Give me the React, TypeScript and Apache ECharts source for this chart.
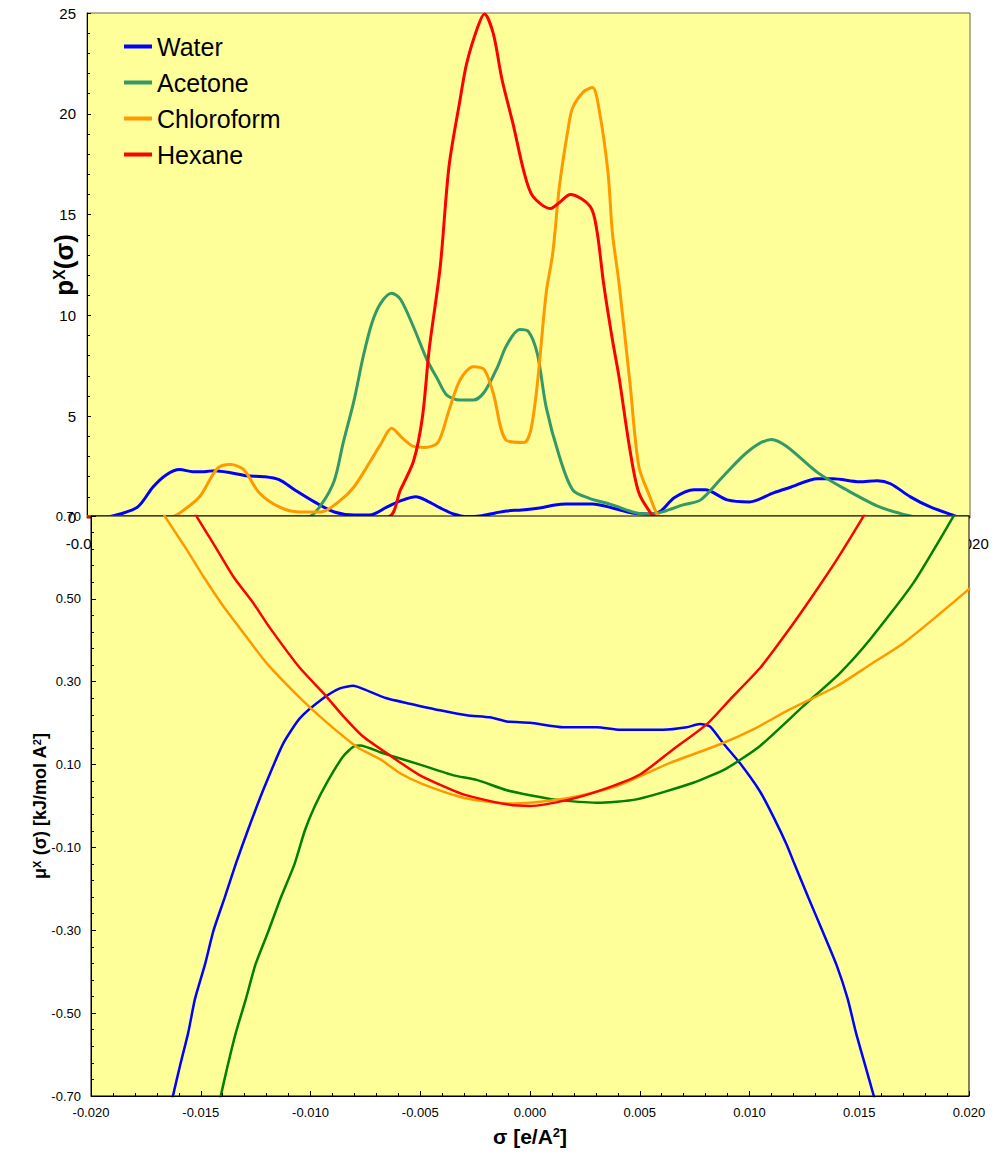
import React, { useEffect, useRef } from "react";
import * as echarts from "echarts";

// sigma [e/A^2], p(sigma)
const waterProfile = [[-0.02,0],[-0.0192,0],[-0.0185,0.15],[-0.0177,0.5],[-0.0170,1.5],[-0.0164,2.1],[-0.0158,2.35],[-0.0152,2.25],[-0.0147,2.25],[-0.0142,2.3],[-0.0135,2.2],[-0.0128,2.05],[-0.0120,2.0],[-0.0113,1.85],[-0.0106,1.35],[-0.0097,0.75],[-0.0088,0.25],[-0.0079,0.1],[-0.0072,0.1],[-0.0064,0.5],[-0.0058,0.8],[-0.0051,1.0],[-0.0046,0.8],[-0.0040,0.45],[-0.0034,0.15],[-0.0028,0.02],[-0.0022,0.05],[-0.0015,0.2],[-0.0010,0.3],[-0.0003,0.35],[0.0005,0.45],[0.0012,0.6],[0.0017,0.65],[0.0029,0.65],[0.0038,0.45],[0.0047,0.2],[0.0056,0.15],[0.0060,0.3],[0.0066,0.95],[0.0075,1.35],[0.0080,1.35],[0.0090,0.85],[0.0100,0.75],[0.0111,1.2],[0.0118,1.45],[0.0131,1.9],[0.0138,1.9],[0.0150,1.75],[0.0158,1.8],[0.0164,1.65],[0.0173,1.0],[0.0182,0.5],[0.0192,0.1],[0.0195,0],[0.02,0]];
const acetoneProfile = [[-0.02,0],[-0.0100,0],[-0.0094,0.6],[-0.0088,1.8],[-0.0084,3.65],[-0.0079,5.8],[-0.0075,7.9],[-0.0071,9.6],[-0.0067,10.6],[-0.0062,11.1],[-0.0058,10.8],[-0.0052,9.4],[-0.0046,7.8],[-0.0041,6.8],[-0.0037,6.05],[-0.0031,5.8],[-0.0025,5.8],[-0.0020,6.2],[-0.0014,7.45],[-0.0010,8.5],[-0.0004,9.3],[0.0000,9.2],[0.0004,8.1],[0.0008,5.45],[0.0014,3.0],[0.0020,1.35],[0.0027,0.95],[0.0038,0.6],[0.0049,0.2],[0.0056,0.15],[0.0062,0.3],[0.0070,0.6],[0.0078,0.85],[0.0088,2.0],[0.0100,3.3],[0.0110,3.85],[0.0117,3.5],[0.0131,2.2],[0.0144,1.35],[0.0159,0.5],[0.0171,0.1],[0.0176,0],[0.02,0]];
const chloroformProfile = [[-0.02,0],[-0.0162,0],[-0.0158,0.2],[-0.0149,1.0],[-0.0141,2.4],[-0.0135,2.6],[-0.0129,2.35],[-0.0122,1.2],[-0.0113,0.5],[-0.0104,0.25],[-0.0094,0.25],[-0.0085,0.85],[-0.0079,1.5],[-0.0072,2.7],[-0.0067,3.6],[-0.0062,4.4],[-0.0057,3.9],[-0.0052,3.5],[-0.0047,3.45],[-0.0041,3.7],[-0.0036,5.3],[-0.0031,6.8],[-0.0025,7.45],[-0.0020,7.3],[-0.0016,6.15],[-0.0010,3.8],[-0.0002,3.7],[0.0001,4.3],[0.0004,6.6],[0.0008,11.1],[0.0011,13.1],[0.0014,16.4],[0.0018,19.3],[0.0020,20.3],[0.0025,21.1],[0.0029,21.3],[0.0032,20.2],[0.0036,17.1],[0.0038,14.1],[0.0041,11.6],[0.0046,6.6],[0.0050,2.5],[0.0055,1.0],[0.0058,0.2],[0.0060,0],[0.02,0]];
const hexaneProfile = [[-0.02,0],[-0.0064,0],[-0.0058,1.35],[-0.0052,2.8],[-0.0048,5.0],[-0.0045,8.3],[-0.0040,12.4],[-0.0036,17.4],[-0.0031,20.7],[-0.0028,22.5],[-0.0023,24.3],[-0.0020,24.95],[-0.0016,24.0],[-0.0012,21.7],[-0.0007,19.5],[-0.0002,17.1],[0.0002,15.9],[0.0010,15.3],[0.0014,15.6],[0.0019,16.0],[0.0028,15.4],[0.0031,14.2],[0.0034,11.6],[0.0038,8.8],[0.0041,6.95],[0.0046,3.3],[0.0050,1.2],[0.0056,0.1],[0.0058,0],[0.02,0]];

// sigma [e/A^2], mu(sigma) [kJ/mol A^2]
const waterPotential = [[-0.01629,-0.705],[-0.01595,-0.628],[-0.01557,-0.547],[-0.01526,-0.465],[-0.01481,-0.383],[-0.01442,-0.301],[-0.01391,-0.221],[-0.01340,-0.139],[-0.01285,-0.058],[-0.01215,0.039],[-0.01124,0.151],[-0.01048,0.212],[-0.00942,0.260],[-0.00866,0.284],[-0.00805,0.290],[-0.00767,0.284],[-0.00653,0.260],[-0.00547,0.247],[-0.0041,0.231],[-0.00288,0.219],[-0.00182,0.214],[-0.00106,0.204],[0,0.201],[0.00152,0.190],[0.00304,0.190],[0.0041,0.184],[0.00607,0.184],[0.00714,0.190],[0.00774,0.198],[0.0082,0.192],[0.00881,0.151],[0.00957,0.103],[0.01048,0.035],[0.01108,-0.025],[0.0117,-0.094],[0.01204,-0.139],[0.01268,-0.221],[0.01332,-0.301],[0.01396,-0.383],[0.01447,-0.465],[0.01485,-0.547],[0.01528,-0.628],[0.01569,-0.705]];
const acetonePotential = [[-0.01411,-0.705],[-0.01378,-0.628],[-0.0134,-0.547],[-0.01294,-0.465],[-0.01251,-0.383],[-0.01191,-0.301],[-0.01135,-0.221],[-0.01072,-0.139],[-0.01025,-0.058],[-0.00980,0.000],[-0.00926,0.056],[-0.00851,0.120],[-0.00805,0.143],[-0.00774,0.146],[-0.00668,0.127],[-0.00501,0.100],[-0.00349,0.074],[-0.00243,0.063],[-0.00106,0.038],[0,0.026],[0.00106,0.016],[0.00304,0.008],[0.00486,0.016],[0.00744,0.056],[0.00896,0.091],[0.01048,0.145],[0.01245,0.241],[0.01412,0.321],[0.01549,0.402],[0.01746,0.538],[0.01929,0.699],[0.0195,0.72]];
const chloroformPotential = [[-0.0168,0.72],[-0.01663,0.699],[-0.01564,0.619],[-0.01488,0.554],[-0.01397,0.482],[-0.01306,0.418],[-0.01200,0.345],[-0.01048,0.261],[-0.00942,0.209],[-0.00790,0.143],[-0.00683,0.113],[-0.00592,0.079],[-0.00486,0.052],[-0.00304,0.020],[-0.00106,0.006],[0,0.008],[0.00182,0.020],[0.00395,0.048],[0.00638,0.104],[0.00866,0.149],[0.01017,0.185],[0.01169,0.229],[0.01397,0.289],[0.01549,0.341],[0.01701,0.393],[0.01853,0.458],[0.02005,0.526]];
const hexanePotential = [[-0.0154,0.72],[-0.01519,0.699],[-0.01443,0.634],[-0.01352,0.554],[-0.01261,0.490],[-0.01185,0.430],[-0.01048,0.333],[-0.00942,0.273],[-0.00851,0.217],[-0.00759,0.167],[-0.00638,0.122],[-0.00501,0.074],[-0.00304,0.028],[-0.00106,0.004],[0,0.0],[0.00182,0.016],[0.00334,0.040],[0.00501,0.076],[0.00653,0.137],[0.00805,0.197],[0.00911,0.257],[0.01048,0.333],[0.01169,0.418],[0.01291,0.510],[0.01397,0.594],[0.01519,0.699],[0.0154,0.72]];

const solvents = ["Water", "Acetone", "Chloroform", "Hexane"];
const profileColors = ["#0000FF", "#339966", "#FF9900", "#FF0000"];
const potentialColors = ["#0000FF", "#008000", "#FF9900", "#FF0000"];

const FONT = "Arial, 'Liberation Sans', sans-serif";

export default function App() {
  const ref = useRef<HTMLDivElement>(null);
  useEffect(() => {
    document.body.style.margin = "0";
    const chart = echarts.init(ref.current!, null, { renderer: "svg" });
    const px = (d: number[][]) => d.map(([s, p]) => [s * 1000, p]);
    const mx = (d: number[][]) => d.map(([s, m]) => [s * 1000, m * 100 + 70]);
    const sigmaFmt = (v: number) => (v / 1000).toFixed(3);
    const profiles = [waterProfile, acetoneProfile, chloroformProfile, hexaneProfile];
    const potentials = [waterPotential, acetonePotential, chloroformPotential, hexanePotential];
    const boldRich = (size: number) => ({
      b: { fontSize: size, fontWeight: "bold", fontFamily: FONT, color: "#000" },
      s: { fontSize: Math.round(size * 0.62), fontWeight: "bold", fontFamily: FONT, color: "#000", verticalAlign: "top" },
    });
    const option: any = {
      animation: false,
      legend: {
        data: solvents,
        orient: "vertical",
        left: 119,
        top: 29,
        icon: "rect",
        itemWidth: 28,
        itemHeight: 4,
        itemGap: 11,
        textStyle: { fontSize: 25, fontFamily: FONT, color: "#000" },
        z: 6,
      },
      grid: [
        { left: 87, top: 13, width: 883, height: 504, show: true, backgroundColor: "#FFFF99", borderColor: "#6b6b3a", borderWidth: 1, z: 0 },
        { left: 91, top: 516, width: 878, height: 580, show: true, backgroundColor: "#FFFF99", borderColor: "#000", borderWidth: 1, z: 3 },
      ],
      xAxis: [
        {
          type: "value", gridIndex: 0, min: -20, max: 20, interval: 5, z: 0,
          axisLine: { onZero: false, lineStyle: { color: "#000" } },
          axisTick: { show: false },
          splitLine: { show: false },
          axisLabel: { fontSize: 15, fontFamily: FONT, color: "#000", margin: 19, formatter: sigmaFmt },
        },
        {
          type: "value", gridIndex: 1, min: -20, max: 20, interval: 5, z: 5,
          axisLine: { onZero: false, lineStyle: { color: "#000", width: 1 } },
          axisTick: { inside: true, length: 5, lineStyle: { color: "#000" } },
          minorTick: { show: true, splitNumber: 5, length: 3, lineStyle: { color: "#000" } },
          splitLine: { show: false },
          axisLabel: { fontSize: 13, fontFamily: FONT, color: "#000", margin: 10, formatter: sigmaFmt },
          name: "{b|σ [e/A}{s|2}{b|]}",
          nameLocation: "middle",
          nameGap: 30,
          nameTextStyle: { rich: boldRich(21) },
        },
      ],
      yAxis: [
        {
          type: "value", gridIndex: 0, min: 0, max: 25, interval: 5, z: 0,
          axisLine: { show: true, onZero: false, lineStyle: { color: "#000" } },
          axisTick: { inside: true, length: 4, lineStyle: { color: "#000" } },
          minorTick: { show: true, splitNumber: 5, length: 3, lineStyle: { color: "#000" } },
          splitLine: { show: false },
          axisLabel: { fontSize: 15, fontFamily: FONT, color: "#000", margin: 11 },
          name: "{b|p}{s|X}{b|(σ)}",
          nameLocation: "middle",
          nameGap: 10,
          nameMoveOverlap: false,
          nameTextStyle: { rich: boldRich(26) },
        },
        {
          type: "value", gridIndex: 1, min: 0, max: 140, interval: 20, z: 5,
          axisLine: { show: true, onZero: false, lineStyle: { color: "#000" } },
          axisTick: { inside: true, length: 5, lineStyle: { color: "#000" } },
          minorTick: { show: true, splitNumber: 5, length: 3, lineStyle: { color: "#000" } },
          splitLine: { show: false },
          axisLabel: { fontSize: 13, fontFamily: FONT, color: "#000", margin: 10, formatter: (v: number) => ((v - 70) / 100).toFixed(2) },
          name: "{b|μ}{s|X}{b| (σ) [kJ/mol A}{s|2}{b|]}",
          nameLocation: "middle",
          nameGap: 42,
          nameMoveOverlap: false,
          nameTextStyle: { rich: boldRich(18) },
        },
      ],
      series: [
        ...solvents.map((n, i) => ({
          name: n,
          type: "line",
          xAxisIndex: 0,
          yAxisIndex: 0,
          data: px(profiles[i]),
          showSymbol: false,
          smooth: 0.3,
          color: profileColors[i],
          lineStyle: { width: 3, color: profileColors[i] },
          z: 2,
        })),
        ...solvents.map((n, i) => ({
          name: n + " μ",
          type: "line",
          xAxisIndex: 1,
          yAxisIndex: 1,
          data: mx(potentials[i]),
          showSymbol: false,
          smooth: 0.2,
          color: potentialColors[i],
          lineStyle: { width: 2.5, color: potentialColors[i] },
          z: 4,
        })),
      ],
    };
    chart.setOption(option);
    return () => chart.dispose();
  }, []);
  return <div ref={ref} style={{ position: "absolute", left: 0, top: 0, width: 996, height: 1157 }} />;
}
